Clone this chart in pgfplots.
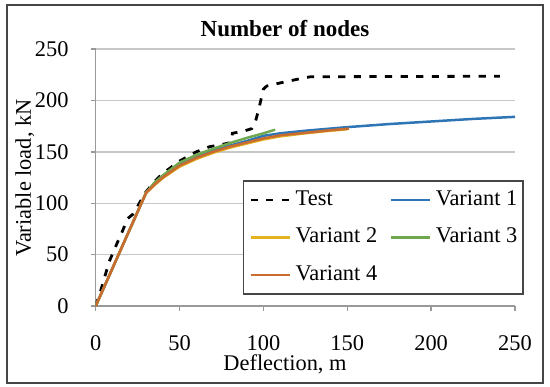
\documentclass[border=0pt]{standalone}
\usepackage{pgfplots}
\pgfplotsset{compat=1.18}
\usepackage{fontspec}
\setmainfont{Liberation Serif}
\definecolor{cblue}{RGB}{46,117,182}
\definecolor{cyellow}{RGB}{228,178,32}
\definecolor{cgreen}{RGB}{112,168,80}
\definecolor{corange}{RGB}{200,108,48}
\definecolor{frame}{RGB}{70,70,70}
\begin{document}
\begin{tikzpicture}[x=1pt,y=1pt]
\useasboundingbox (-47.85,-40) rectangle (227.15,153);
\draw[line width=1.1pt, frame] (-44.35,-38.5) rectangle (223.65,150.5);
\begin{axis}[
  at={(0,0)}, anchor=south west,
  width=209.65pt, height=128.5pt, scale only axis,
  xmin=0, xmax=250, ymin=0, ymax=250,
  xtick={0,50,...,250}, ytick={0,50,...,250},
  /pgf/number format/assume math mode=true,
  axis lines=left,
  axis line style={-, draw=black!40, line width=0.7pt},
  tick align=outside, major tick length=2.5pt,
  tick style={draw=black!40, line width=0.7pt},
  ymajorgrids, grid style={line width=0.7pt, draw=black!22},
  tick label style={font=\fontsize{11.2}{13}\selectfont},
  xticklabel style={anchor=base, inner sep=0pt, yshift=-19.5pt},
  xticklabel shift=0pt,
  yticklabel style={anchor=east, inner sep=0pt, xshift=-10.85pt},
  yticklabel shift=0pt,
  title={\textbf{Number of nodes}},
  every axis title/.style={at={(rel axis cs:0.4515,1)}, anchor=base, yshift=6.5pt, font=\fontsize{11.5}{14}\selectfont},
  xlabel={Deflection, m},
  every axis x label/.style={at={(rel axis cs:0.4515,0)}, anchor=base, yshift=-32pt, font=\fontsize{11.2}{13}\selectfont},
  ylabel={Variable load, kN},
  every axis y label/.style={at={(rel axis cs:0,0.498)}, xshift=-32.35pt, rotate=90, anchor=base, font=\fontsize{11.2}{13}\selectfont},
  legend columns=2, legend cell align=left,
  legend image code/.code={\draw[#1] (0pt,0pt) -- (19.5pt,0pt);},
  legend style={at={(rel axis cs:0.3506,0.4903)}, anchor=north west, draw=frame, line width=0.8pt,
    inner xsep=2.8pt, inner ysep=4.6pt, font=\fontsize{11.2}{13}\selectfont,
    nodes={inner sep=0pt, text height=7.5pt, text depth=2.5pt},
    row sep=8.75pt, column sep=2.4pt, /tikz/column 2/.style={column sep=6.15pt}},
]
\addplot[black, line width=1.4pt, dash pattern=on 3.6pt off 4.2pt] coordinates {
(0,0) (3,15) (8,43) (13,62) (16,73) (19,85) (22,89) (25,97) (29.5,110) (35,121) (40,129) (50,141) (60,150) (68,155) (75,157) (80.5,159) (81.5,168) (88,170) (93,172.5) (95,178) (97,190) (100,211) (102,214) (110,217) (120,220.5) (128,223) (241,223.5)
};
\addlegendentry{Test}
\addplot[cblue, line width=1.25pt] coordinates {
(0,0) (30,110) (35,119) (40,126) (50,137.5) (60,145) (70,151) (80,156) (90,160.5) (100,165.5) (110,168) (125,170.5) (150,174) (175,177) (200,179.5) (225,182) (250,184)
};
\addlegendentry{Variant 1}
\addplot[cyellow, line width=1.25pt] coordinates {
(0,0) (30,110) (35,117.5) (40,124.5) (50,135.5) (60,143) (70,149) (80,154) (90,158) (100,162) (110,165) (125,168) (140,170.5) (150,172)
};
\addlegendentry{Variant 2}
\addplot[cgreen, line width=1.25pt] coordinates {
(0,0) (30,110) (35,120) (40,127) (50,139.5) (60,147) (70,153) (80,158.5) (90,163.5) (100,168) (107,171.5)
};
\addlegendentry{Variant 3}
\addplot[corange, line width=1.25pt] coordinates {
(0,0) (30,110) (35,118) (40,125) (50,136.5) (60,144) (70,150) (80,155) (90,159) (100,163) (110,166) (125,168.5) (140,171) (151,172.5)
};
\addlegendentry{Variant 4}
\end{axis}
\end{tikzpicture}
\end{document}
